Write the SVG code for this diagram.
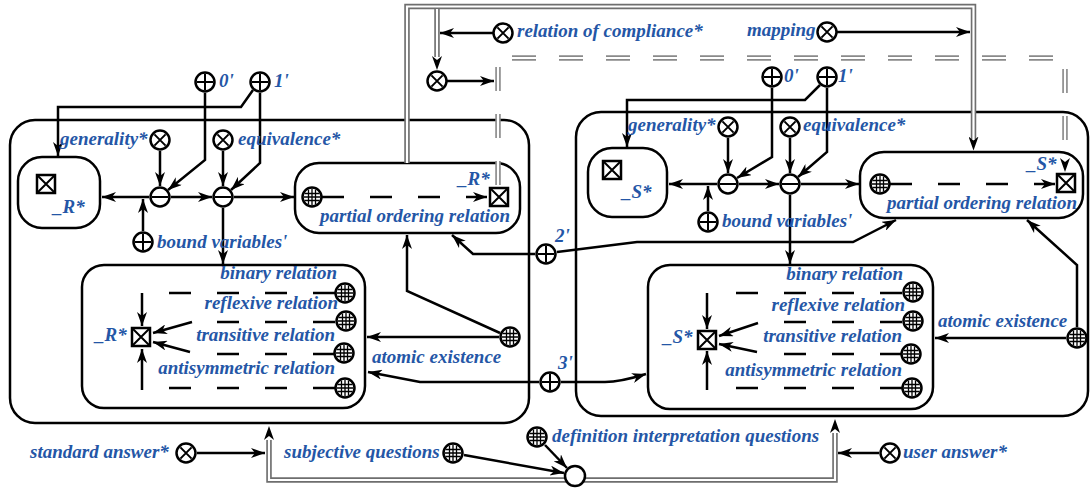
<svg xmlns="http://www.w3.org/2000/svg" width="1090" height="488" viewBox="0 0 1090 488">
<defs>
<style>
.t{font-family:"Liberation Serif","Times New Roman",serif;font-size:19px;font-weight:bold;font-style:italic;fill:#2456a6}
.te{font-family:"Liberation Serif","Times New Roman",serif;font-size:19px;font-weight:bold;font-style:italic;fill:#2456a6;text-anchor:end}
.e{fill:none;stroke:#000;stroke-width:2.5}
.ea{fill:none;stroke:#000;stroke-width:2.5;marker-end:url(#ah)}
.da{fill:none;stroke:#000;stroke-width:2.5;stroke-dasharray:22 26;marker-end:url(#ah)}
.dn{fill:none;stroke:#000;stroke-width:2.5;stroke-dasharray:22 26}
.ct{fill:none;stroke:#000;stroke-width:2.5}
.g1{fill:none;stroke:#6e6e6e;stroke-width:5.5}
.g2{fill:none;stroke:#fff;stroke-width:2.2}
.gd1{fill:none;stroke:#8a8a8a;stroke-width:5.5;stroke-dasharray:24 23}
.gd2{fill:none;stroke:#fff;stroke-width:2.2;stroke-dasharray:24 23}
.ah{fill:none;stroke:none;marker-end:url(#ah)}
</style>
<marker id="ah" viewBox="0 0 14 10" refX="14" refY="5" markerWidth="14" markerHeight="10" markerUnits="userSpaceOnUse" orient="auto"><path d="M0,0 L14,5 L0,10 L4,5 Z" fill="#000"/></marker>
<g id="X"><circle r="9.5" fill="#fff" stroke="#000" stroke-width="2.5"/><path d="M-5.6,-5.6L5.6,5.6M5.6,-5.6L-5.6,5.6" fill="none" stroke="#000" stroke-width="2"/></g>
<g id="P"><circle r="9.5" fill="#fff" stroke="#000" stroke-width="2.5"/><path d="M0,-8.3V8.3M-8.3,0H8.3" fill="none" stroke="#000" stroke-width="2"/></g>
<g id="M"><circle r="9.5" fill="#fff" stroke="#000" stroke-width="2.5"/><path d="M-8.3,0H8.3" fill="none" stroke="#000" stroke-width="2"/></g>
<g id="G"><circle r="9.5" fill="#fff" stroke="#000" stroke-width="2.5"/><path d="M-3.5,-7.5V7.5M0,-8.3V8.3M3.5,-7.5V7.5M-7.5,-3.5H7.5M-8.3,0H8.3M-7.5,3.5H7.5" fill="none" stroke="#000" stroke-width="1.3"/></g>
<g id="B"><rect x="-9" y="-9" width="18" height="18" fill="#fff" stroke="#000" stroke-width="2.5"/><path d="M-9,-9L9,9M9,-9L-9,9" fill="none" stroke="#000" stroke-width="2"/></g>
</defs>
<rect width="1090" height="488" fill="#fff"/>

<g id="contours">
<g id="contour-R"><rect x="10" y="120" width="519" height="303" rx="25" class="ct"/></g>
<g id="contour-S"><rect x="576" y="112" width="512" height="304" rx="25" class="ct"/></g>
<g id="box-R"><rect x="18" y="157" width="82" height="71" rx="24" class="ct"/></g>
<g id="box-S"><rect x="588" y="148" width="79" height="69" rx="24" class="ct"/></g>
<g id="partial-R"><rect x="295" y="163" width="225" height="70" rx="24" class="ct"/></g>
<g id="partial-S"><rect x="860" y="152" width="223" height="66" rx="24" class="ct"/></g>
<g id="inner-R"><rect x="82" y="265" width="283" height="143" rx="22" class="ct"/></g>
<g id="inner-S"><rect x="648" y="265" width="285" height="144" rx="22" class="ct"/></g>
</g>

<g id="connectors">
<!-- double gray arcs -->
<path class="g1" d="M407,163 V6.5 H973.5 V139"/>
<path class="g1" d="M437,6.5 V57"/>
<path class="g1" d="M566,480 H269 V440"/>
<path class="g1" d="M584,480 H835 V433"/>
<path class="gd1" d="M498,185 V58 H1065 V160"/>
<path class="g2" d="M407,163 V6.5 H973.5 V139"/>
<path class="g2" d="M437,9 V57"/>
<path class="g2" d="M566,480 H269 V440"/>
<path class="g2" d="M584,480 H835 V433"/>
<path class="gd2" d="M498,185 V58 H1065 V160"/>
<path class="ah" d="M973.5,139 V150.5"/>
<path class="ah" d="M437,57 V70"/>
<path class="ah" d="M269,440 V426"/>
<path class="ah" d="M835,433 V419"/>
<path class="ah" d="M1065,160 V172"/>
<!-- top arrows -->
<path class="ea" d="M493,33 H440"/>
<path class="ea" d="M837,32 H970"/>
<path class="ea" d="M447,81 H494"/>
<!-- left side -->
<path class="ea" d="M149,197 H102"/>
<path class="ea" d="M143,231 V199"/>
<path class="ea" d="M171,197 H212"/>
<path class="ea" d="M234,197 H294"/>
<path class="ea" d="M160,151 V186"/>
<path class="ea" d="M223,151 V186"/>
<path class="ea" d="M205,93 V160 L168,190"/>
<path class="ea" d="M260,93 V163 L231,190"/>
<path class="ea" d="M253,90 L241,107 H58 V156"/>
<path class="ea" d="M223,208 V264"/>
<path class="da" d="M322,197 H487"/>
<path class="ea" d="M500,333 L407,291 V235"/>
<path class="ea" d="M499,337 H367"/>
<path class="ea" d="M535,254 H473 L452,235"/>
<path class="ea" d="M557,252 L637,242 H853 L896,220"/>
<path class="ea" d="M539,382 H420 L368,372"/>
<path class="ea" d="M561,382 H605 Q620,382 646,374"/>
<!-- left inner -->
<path class="dn" d="M335,293 H167"/>
<path class="dn" d="M335,322 H213"/>
<path class="dn" d="M335,354 H213"/>
<path class="dn" d="M335,388 H167"/>
<path class="ea" d="M142,293 V326"/>
<path class="ea" d="M142,390 V349"/>
<path class="ea" d="M192,322 L153,333"/>
<path class="ea" d="M190,352 L153,342"/>
<!-- right side -->
<path class="ea" d="M717,184 H669"/>
<path class="ea" d="M708,211 V186"/>
<path class="ea" d="M739,184 H779"/>
<path class="ea" d="M801,184 H859"/>
<path class="ea" d="M728,138 V173"/>
<path class="ea" d="M790,138 V173"/>
<path class="ea" d="M772,88 V157 L737,178"/>
<path class="ea" d="M827,88 V152 L798,177"/>
<path class="ea" d="M820,85 L805,100 H627 V147"/>
<path class="ea" d="M790,195 V264"/>
<path class="da" d="M890,184 H1055"/>
<path class="ea" d="M1077,327 V265 L1027,220"/>
<path class="ea" d="M1066,338 H935"/>
<!-- right inner -->
<path class="dn" d="M902,293 H735"/>
<path class="dn" d="M902,322 H782"/>
<path class="dn" d="M902,354 H782"/>
<path class="dn" d="M902,388 H735"/>
<path class="ea" d="M707,293 V329"/>
<path class="ea" d="M707,390 V351"/>
<path class="ea" d="M758,323 L719,336"/>
<path class="ea" d="M757,352 L719,344"/>
<!-- bottom -->
<path class="ea" d="M197,453 H265"/>
<path class="ea" d="M879,453 H838"/>
<path class="ea" d="M464,455 L564,473"/>
<path class="ea" d="M545,445 L567,468"/>
</g>

<g id="nodes">
<g id="n-generality-R"><use href="#X" x="160" y="140"/><text class="t" x="60" y="145">generality*</text></g>
<g id="n-equivalence-R"><use href="#X" x="223" y="140"/><text class="t" x="238" y="145">equivalence*</text></g>
<g id="n-0-R"><use href="#P" x="205" y="82"/><text class="t" x="219" y="87">0'</text></g>
<g id="n-1-R"><use href="#P" x="260" y="82"/><text class="t" x="274" y="87">1'</text></g>
<g id="n-minus1-R"><use href="#M" x="160" y="197"/></g>
<g id="n-minus2-R"><use href="#M" x="223" y="197"/></g>
<g id="n-bound-R"><use href="#P" x="143" y="242"/><text class="t" x="157" y="248">bound variables'</text></g>
<g id="n-R-box"><use href="#B" x="46" y="184"/><text class="t" x="53" y="213">_R*</text></g>
<g id="n-R-partial"><use href="#G" x="312" y="197"/><use href="#B" x="499" y="197"/><text class="t" x="458" y="185">_R*</text><text class="t" x="320" y="222">partial ordering relation</text></g>
<g id="n-R-inner"><use href="#B" x="141" y="337"/><text class="t" x="95" y="341">_R*</text></g>
<g id="n-binary-R"><use href="#G" x="345" y="293"/><text class="te" x="337" y="279">binary relation</text></g>
<g id="n-reflexive-R"><use href="#G" x="346" y="321"/><text class="te" x="338" y="309">reflexive relation</text></g>
<g id="n-transitive-R"><use href="#G" x="344" y="353"/><text class="te" x="335" y="341">transitive relation</text></g>
<g id="n-antisym-R"><use href="#G" x="345" y="388"/><text class="te" x="335" y="374">antisymmetric relation</text></g>
<g id="n-atomic-R"><use href="#G" x="510" y="337"/><text class="t" x="372" y="363">atomic existence</text></g>
<g id="n-2"><use href="#P" x="546" y="254"/><text class="t" x="555" y="242">2'</text></g>
<g id="n-3"><use href="#P" x="550" y="382"/><text class="t" x="558" y="369">3'</text></g>

<g id="n-generality-S"><use href="#X" x="728" y="127"/><text class="t" x="628" y="131">generality*</text></g>
<g id="n-equivalence-S"><use href="#X" x="790" y="127"/><text class="t" x="803" y="131">equivalence*</text></g>
<g id="n-0-S"><use href="#P" x="772" y="77"/><text class="t" x="784" y="82">0'</text></g>
<g id="n-1-S"><use href="#P" x="827" y="77"/><text class="t" x="838" y="82">1'</text></g>
<g id="n-minus1-S"><use href="#M" x="728" y="184"/></g>
<g id="n-minus2-S"><use href="#M" x="790" y="184"/></g>
<g id="n-bound-S"><use href="#P" x="708" y="222"/><text class="t" x="722" y="227">bound variables'</text></g>
<g id="n-S-box"><use href="#B" x="612" y="170"/><text class="t" x="622" y="198">_S*</text></g>
<g id="n-S-partial"><use href="#G" x="880" y="184"/><use href="#B" x="1066" y="183"/><text class="t" x="1027" y="170">_S*</text><text class="t" x="887" y="209">partial ordering relation</text></g>
<g id="n-S-inner"><use href="#B" x="707" y="340"/><text class="t" x="663" y="343">_S*</text></g>
<g id="n-binary-S"><use href="#G" x="913" y="292"/><text class="te" x="903" y="280">binary relation</text></g>
<g id="n-reflexive-S"><use href="#G" x="913" y="321"/><text class="te" x="905" y="311">reflexive relation</text></g>
<g id="n-transitive-S"><use href="#G" x="911" y="354"/><text class="te" x="902" y="342">transitive relation</text></g>
<g id="n-antisym-S"><use href="#G" x="912" y="388"/><text class="te" x="902" y="376">antisymmetric relation</text></g>
<g id="n-atomic-S"><use href="#G" x="1077" y="338"/><text class="t" x="938" y="327">atomic existence</text></g>

<g id="n-compliance-pair"><use href="#X" x="437" y="81"/></g>
<g id="n-compliance"><use href="#X" x="503" y="33"/><text class="t" x="517" y="37">relation of compliance*</text></g>
<g id="n-mapping"><use href="#X" x="827" y="32"/><text class="t" x="747" y="36">mapping</text></g>

<g id="n-standard"><use href="#X" x="186" y="453"/><text class="t" x="30" y="458">standard answer*</text></g>
<g id="n-subjective"><use href="#G" x="453" y="453"/><text class="t" x="284" y="458">subjective questions</text></g>
<g id="n-definition"><use href="#G" x="537" y="437"/><text class="t" x="552" y="442">definition interpretation questions</text></g>
<g id="n-user"><use href="#X" x="890" y="453"/><text class="t" x="903" y="458">user answer*</text></g>
<g id="n-circle"><circle cx="575" cy="476" r="10" fill="#fff" stroke="#000" stroke-width="2.5"/></g>
</g>
</svg>
